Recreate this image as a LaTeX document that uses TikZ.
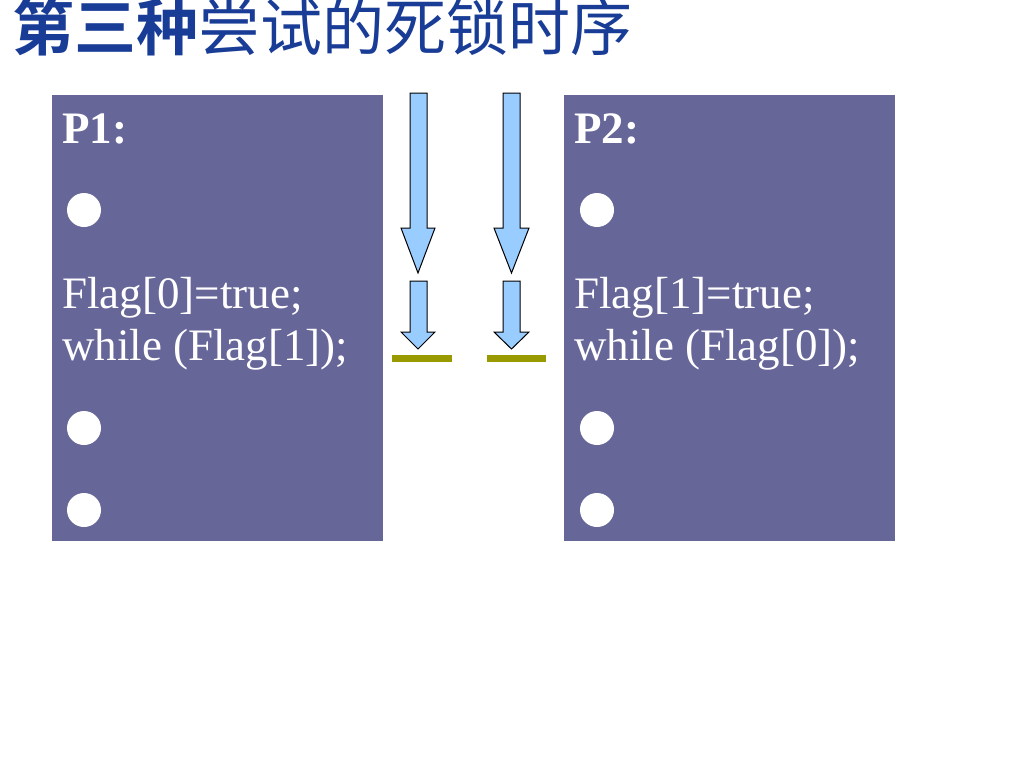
\documentclass[tikz,border=0pt]{standalone}
\usepackage{fontspec}
\setmainfont{Liberation Serif}
\newfontfamily\cjk{Noto Sans CJK SC}
\newfontfamily\cjkb{Noto Sans CJK SC Bold}
\definecolor{titleblue}{RGB}{25,60,150}
\definecolor{boxpurple}{RGB}{102,102,153}
\definecolor{arrowblue}{RGB}{153,204,255}
\definecolor{barolive}{RGB}{153,153,0}
\tikzset{
  procbox/.style={fill=boxpurple, draw=none},
  codetext/.style={text=white, font=\fontsize{45}{51}\selectfont, anchor=base west, inner sep=0pt, align=left},
  bul/.style={fill=white, draw=none},
  blockarrow/.style={fill=arrowblue, draw=black, line width=1pt, line join=miter},
  barline/.style={fill=barolive, draw=none}
}
\begin{document}
\begin{tikzpicture}[x=1pt,y=-1pt]
\useasboundingbox (0,0) rectangle (1024,768);
\fill[white] (0,0) rectangle (1024,768);
% title
\node[anchor=base west, inner sep=0pt, text=titleblue, font=\fontsize{62}{62}\selectfont] (title) at (12,50) {{\cjkb 第三种}{\cjk 尝试的死锁时序}};
% boxes
\fill[procbox] (52,95) rectangle (383,541);
\fill[procbox] (564,95) rectangle (895,541);
% left text
\node[codetext, font=\bfseries\fontsize{45}{51}\selectfont] (p1) at (62,143) {P1:};
\node[codetext] (f0) at (62,308) {Flag[0]=true;};
\node[codetext] (w1) at (62,360) {while (Flag[1]);};
\fill[bul] (84,210) circle (17);
\fill[bul] (84,428) circle (17);
\fill[bul] (84,510) circle (17);
% right text
\node[codetext, font=\bfseries\fontsize{45}{51}\selectfont] (p2) at (574,143) {P2:};
\node[codetext] (f1) at (574,308) {Flag[1]=true;};
\node[codetext] (w0) at (574,360) {while (Flag[0]);};
\fill[bul] (597,210) circle (17);
\fill[bul] (597,428) circle (17);
\fill[bul] (597,510) circle (17);
% arrows left
\draw[blockarrow] (410,93) -- (427,93) -- (427,228) -- (435,228) -- (418,273) -- (401,228) -- (410,228) -- cycle;
\draw[blockarrow] (410,281) -- (427,281) -- (427,332) -- (435,332) -- (418,349) -- (401,332) -- (410,332) -- cycle;
% arrows right
\draw[blockarrow] (503,93) -- (520,93) -- (520,228) -- (529,228) -- (511.5,273) -- (494,228) -- (503,228) -- cycle;
\draw[blockarrow] (503,281) -- (520,281) -- (520,332) -- (529,332) -- (511.5,349) -- (494,332) -- (503,332) -- cycle;
% bars
\fill[barline] (392,355) rectangle (452,362);
\fill[barline] (487,355) rectangle (546,362);
\end{tikzpicture}
\end{document}
